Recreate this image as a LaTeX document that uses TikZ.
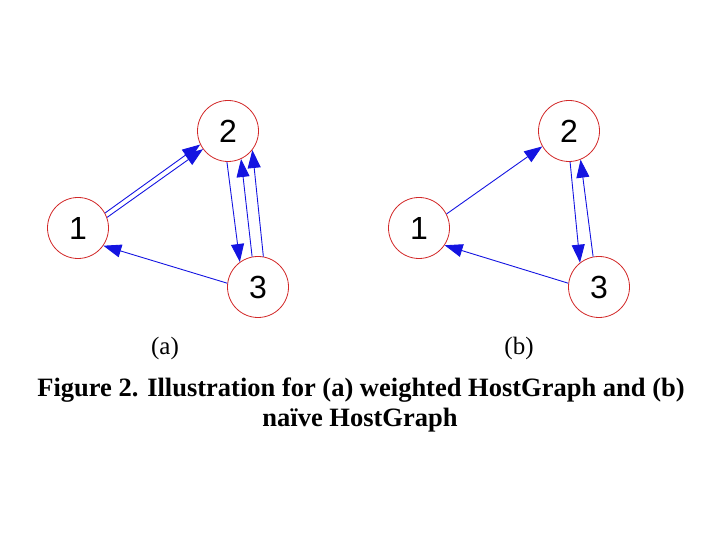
\documentclass[tikz,border=0pt]{standalone}
\usepackage{fontspec}
\setmainfont{Liberation Serif}
\newfontfamily\digitfont{Liberation Sans}
\usetikzlibrary{arrows.meta}
\definecolor{ringred}{RGB}{210,40,40}
\definecolor{linkblue}{RGB}{20,20,225}
\tikzset{
  state/.style={circle, draw=ringred, line width=0.8pt, fill=white,
    minimum size=61pt, inner sep=0pt,
    font=\digitfont\fontsize{32}{32}\selectfont},
  link/.style={draw=linkblue, line width=0.9pt,
    -{Triangle[length=18pt,width=13pt,fill=linkblue]}},
}
\begin{document}
\begin{tikzpicture}[x=1pt,y=1pt]
      \useasboundingbox (0,0) rectangle (720,540);
      % (a) weighted
      \draw
        (78,312) node[state] (a1){1}
        (228,409) node[state] (a2){2}
        (258,253) node[state] (a3){3};
      % (b) naive
      \draw
        (419,312) node[state] (b1){1}
        (569,409) node[state] (b2){2}
        (599,253) node[state] (b3){3};
      \begin{scope}[link]
        \draw (a1.29) to (a2.206);
        \draw (a1.20) to (a2.216);
        \draw (a2.268) to (a3.126);
        \draw (a3.101) to (a2.295);
        \draw (a3.80) to (a2.322);
        \draw (a3.173) to (a1.325);
        \draw (b1.27) to (b2.210);
        \draw (b2.272) to (b3.128);
        \draw (b3.101) to (b2.292);
        \draw (b3.173) to (b1.326);
      \end{scope}
      \node[anchor=base, font=\fontsize{25}{25}\selectfont] (la) at (165,185) {(a)};
      \node[anchor=base, font=\fontsize{25}{25}\selectfont] (lb) at (519,185) {(b)};
      \node[anchor=base, font=\bfseries\fontsize{26.5}{26.5}\selectfont] (cap1) at (361,143)
        {Figure 2. Illustration for (a) weighted HostGraph and (b)};
      \node[anchor=base, font=\bfseries\fontsize{26.5}{26.5}\selectfont] (cap2) at (360,113)
        {naïve HostGraph};
    \end{tikzpicture}
\end{document}
